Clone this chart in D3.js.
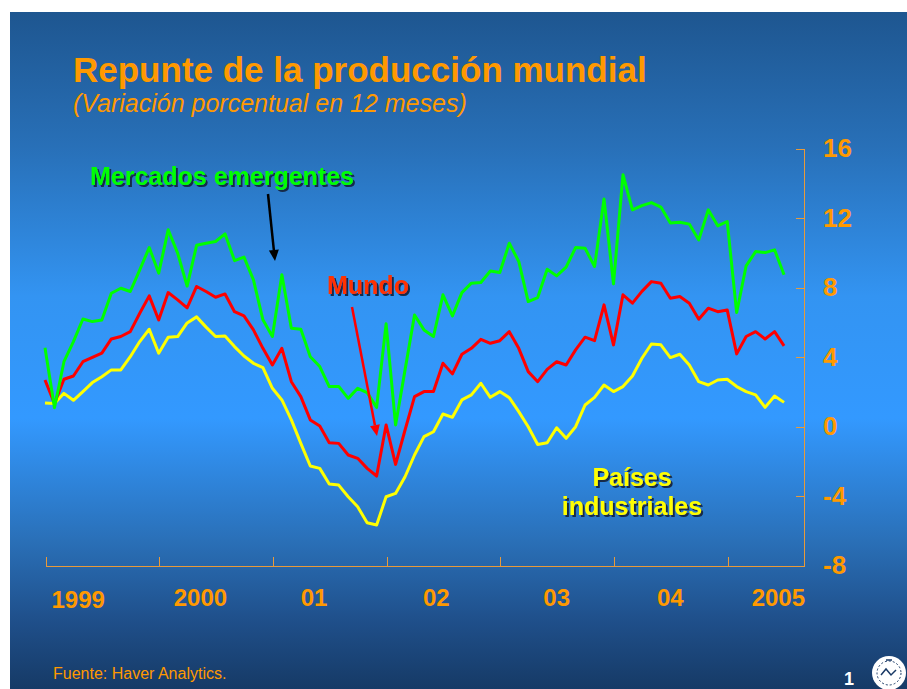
<!DOCTYPE html>
<html>
<head>
<meta charset="utf-8">
<script src="https://cdn.jsdelivr.net/npm/d3@7"></script>
<style>
  html, body { margin: 0; padding: 0; background: #fff; }
  svg { display: block; }
</style>
</head>
<body>
<div id="chart"></div>
<script>
const width = 907;
const height = 689;
const font = "Arial, 'Liberation Sans', sans-serif";

// month index 0 = Jan 1999
const yearLabels = ["1999", "2000", "01", "02", "03", "04", "2005"];
const yearLabelPos = [3.5, 16.4, 28.4, 41.3, 54.0, 66.0, 77.4];
const yearTicks = [0, 12, 24, 36, 48, 60, 72];
const yTicks = [-8, -4, 0, 4, 8, 12, 16];

const emergentes = [
  4.5, 1.05, 3.7, 4.86, 6.16, 6.01, 6.1, 7.64, 7.93, 7.74, 8.99, 10.27,
  8.8, 11.29, 9.95, 8.05, 10.4, 10.52, 10.62, 11.06, 9.52, 9.72, 8.41, 6.11,
  5.15, 8.7, 5.63, 5.57, 3.99, 3.42, 2.27, 2.28, 1.59, 2.17, 1.92, 1.07,
  5.88, 0.06, 3.23, 6.39, 5.53, 5.15, 7.55, 6.34, 7.68, 8.22, 8.26, 8.92,
  8.83, 10.52, 9.47, 7.16, 7.39, 9.02, 8.64, 9.14, 10.27, 10.23, 9.18, 13.06,
  8.18, 14.46, 12.44, 12.68, 12.86, 12.6, 11.68, 11.73, 11.62, 10.71, 12.44, 11.52,
  11.77, 6.53, 9.22, 10.04, 9.98, 10.14, 8.7
];
const mundo = [
  2.65, 1.3, 2.69, 2.88, 3.7, 3.95, 4.19, 5.01, 5.15, 5.43, 6.49, 7.49,
  6.1, 7.68, 7.26, 6.8, 8.03, 7.74, 7.41, 7.6, 6.58, 6.34, 5.53, 4.47,
  3.51, 4.47, 2.55, 1.69, 0.35, 0.0, -0.96, -1.0, -1.67, -1.86, -2.44, -2.88,
  0.06, -2.21, -0.23, 1.69, 1.98, 1.98, 3.61, 3.0, 4.13, 4.47, 4.99, 4.76,
  4.91, 5.43, 4.47, 3.13, 2.55, 3.26, 3.7, 3.51, 4.38, 5.11, 4.91, 6.97,
  4.67, 7.55, 7.07, 7.75, 8.31, 8.22, 7.35, 7.45, 7.07, 6.15, 6.78, 6.58,
  6.68, 4.15, 5.15, 5.43, 5.01, 5.43, 4.61
];
const industriales = [
  1.32, 1.29, 1.88, 1.48, 1.98, 2.5, 2.84, 3.23, 3.23, 3.99, 4.86, 5.57,
  4.19, 5.11, 5.15, 5.93, 6.28, 5.69, 5.15, 5.18, 4.57, 4.03, 3.61, 3.36,
  2.17, 1.5, 0.35, -1.0, -2.3, -2.44, -3.34, -3.4, -4.07, -4.65, -5.57, -5.7,
  -4.07, -3.88, -2.92, -1.67, -0.61, -0.33, 0.69, 0.5, 1.5, 1.79, 2.46, 1.65,
  1.98, 1.63, 0.83, -0.04, -1.06, -0.96, -0.1, -0.71, -0.04, 1.21, 1.65, 2.36,
  1.98, 2.27, 2.88, 3.9, 4.72, 4.67, 3.94, 4.13, 3.51, 2.55, 2.36, 2.65,
  2.69, 2.27, 1.98, 1.79, 1.07, 1.73, 1.36
];

const svg = d3.select("#chart").append("svg")
  .attr("width", width)
  .attr("height", height);

const defs = svg.append("defs");
const grad = defs.append("linearGradient")
  .attr("id", "bg").attr("x1", 0).attr("y1", 0).attr("x2", 0).attr("y2", 1);
[
  [0, "#1e5690"], [0.2, "#2870b8"], [0.42, "#3394f2"], [0.6, "#3399ff"],
  [0.78, "#2a70b8"], [0.9, "#1f4f8a"], [1, "#163a66"]
].forEach(([o, c]) => grad.append("stop").attr("offset", o).attr("stop-color", c));

defs.append("filter")
  .attr("id", "shadow")
  .append("feDropShadow")
  .attr("dx", 2).attr("dy", 2).attr("stdDeviation", 0.3)
  .attr("flood-color", "#13294a").attr("flood-opacity", 1);

// slide background
svg.append("rect")
  .attr("x", 10).attr("y", 12)
  .attr("width", width - 10).attr("height", height - 12)
  .attr("fill", "url(#bg)");

const x = d3.scaleLinear().domain([0, 80]).range([45, 803]);
const y = d3.scaleLinear().domain([-8, 16]).range([565, 148]);

const orange = "#ff9900";
const axisColor = "#e89a3a";

// title
svg.append("text")
  .attr("x", 73).attr("y", 82)
  .attr("fill", orange)
  .style("font", `bold 35px ${font}`)
  .text("Repunte de la producción mundial");
svg.append("text")
  .attr("x", 73).attr("y", 112)
  .attr("fill", orange)
  .style("font", `italic 25px ${font}`)
  .text("(Variación porcentual en 12 meses)");

// right y axis
const yAxis = svg.append("g")
  .attr("transform", `translate(${x(80) + 0.5},0.5)`)
  .call(d3.axisLeft(y).tickValues(yTicks).tickSize(8).tickSizeOuter(8).tickFormat(""));
yAxis.selectAll("path, line").attr("stroke", axisColor).attr("stroke-width", 1)
  .attr("shape-rendering", "crispEdges");

svg.append("g").selectAll("text")
  .data(yTicks)
  .join("text")
  .attr("x", 823)
  .attr("y", (d) => y(d))
  .attr("dy", "0.36em")
  .attr("fill", orange)
  .style("font", `bold 26px ${font}`)
  .text((d) => d);

// bottom x axis
const xAxis = svg.append("g")
  .attr("transform", `translate(0.5,${y(-8) + 0.5})`)
  .call(d3.axisTop(x).tickValues(yearTicks).tickSize(9).tickSizeOuter(0).tickFormat(""));
xAxis.selectAll("path, line").attr("stroke", axisColor).attr("stroke-width", 1)
  .attr("shape-rendering", "crispEdges");

svg.append("g").selectAll("text")
  .data(yearLabels)
  .join("text")
  .attr("x", (d, i) => x(yearLabelPos[i]))
  .attr("y", (d, i) => (i === 0 ? 608 : 606))
  .attr("text-anchor", "middle")
  .attr("fill", orange)
  .style("font", `bold 24px ${font}`)
  .text((d) => d);

// series
const line = d3.line().x((d, i) => x(i)).y((d) => y(d));
const series = [
  { values: industriales, color: "#ffff00" },
  { values: mundo, color: "#ff0000" },
  { values: emergentes, color: "#00ff00" },
];
svg.append("g").selectAll("path")
  .data(series)
  .join("path")
  .attr("d", (d) => line(d.values))
  .attr("fill", "none")
  .attr("stroke", (d) => d.color)
  .attr("stroke-width", 3)
  .attr("stroke-linejoin", "round");

// labels with shadow
function shadowText(lines, tx, ty, color, anchor) {
  const t = svg.append("text")
    .attr("x", tx).attr("y", ty)
    .attr("text-anchor", anchor)
    .attr("fill", color)
    .attr("filter", "url(#shadow)")
    .style("font", `bold 25px ${font}`);
  lines.forEach((s, i) => {
    t.append("tspan").attr("x", tx).attr("dy", i === 0 ? 0 : 29).text(s);
  });
}
shadowText(["Mercados emergentes"], 90, 185, "#00ff00", "start");
shadowText(["Mundo"], 327, 294, "#ff3300", "start");
shadowText(["Países", "industriales"], 632, 486, "#ffff00", "middle");

// arrows
function arrow(x1, y1, x2, y2, color) {
  const ang = Math.atan2(y2 - y1, x2 - x1);
  const len = 11, w = 5;
  const bx = x2 - len * Math.cos(ang), by = y2 - len * Math.sin(ang);
  svg.append("line")
    .attr("x1", x1).attr("y1", y1).attr("x2", bx).attr("y2", by)
    .attr("stroke", color).attr("stroke-width", 2.5);
  svg.append("path")
    .attr("d", `M${x2},${y2}L${bx + w * Math.sin(ang)},${by - w * Math.cos(ang)}L${bx - w * Math.sin(ang)},${by + w * Math.cos(ang)}Z`)
    .attr("fill", color);
}
arrow(268, 194, 275, 261, "#000000");
arrow(352, 307, 377, 436, "#ff0000");

// footer
svg.append("text")
  .attr("x", 53).attr("y", 679)
  .attr("fill", orange)
  .style("font", `16px ${font}`)
  .text("Fuente: Haver Analytics.");
svg.append("text")
  .attr("x", 844).attr("y", 685)
  .attr("fill", "#ffffff")
  .style("font", `bold 18px ${font}`)
  .text("1");

// seal
const seal = svg.append("g").attr("transform", "translate(889,673)");
seal.append("circle").attr("r", 17).attr("fill", "#ffffff");
seal.append("circle").attr("r", 12).attr("fill", "none").attr("stroke", "#1a3a66").attr("stroke-width", 1).attr("stroke-dasharray", "2,2");
seal.append("path").attr("d", "M-8,2 L-3,-4 L2,2 L7,-3").attr("fill", "none").attr("stroke", "#1a3a66").attr("stroke-width", 1.5);
seal.append("line").attr("x1", -3).attr("y1", -13).attr("x2", 3).attr("y2", -13).attr("stroke", "#1a3a66").attr("stroke-width", 1.5);
</script>
</body>
</html>
